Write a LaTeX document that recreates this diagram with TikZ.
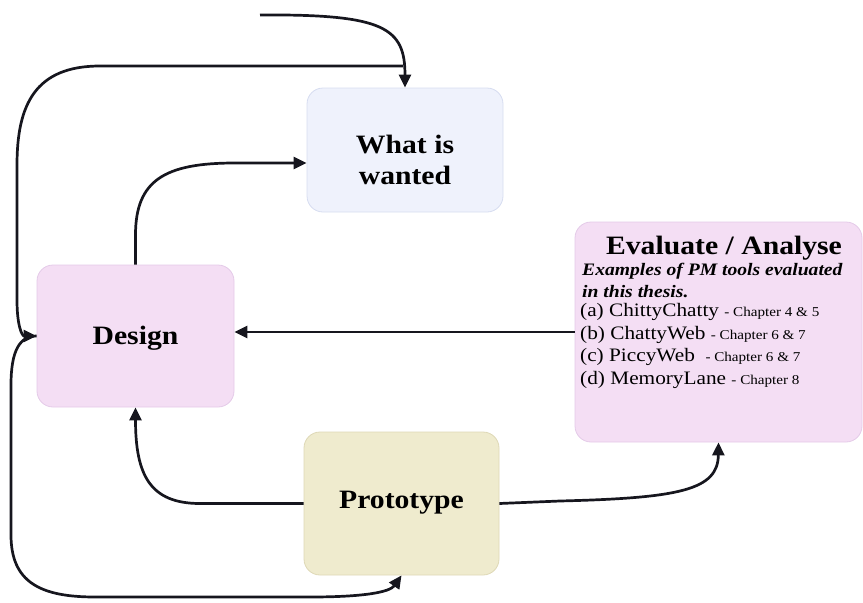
\documentclass[tikz,border=0pt]{standalone}
\usepackage{fontspec}
\setmainfont{Liberation Serif}[FakeStretch=1.12]
\usetikzlibrary{arrows.meta}

\definecolor{pinkfill}{RGB}{244,222,244}
\definecolor{pinkline}{RGB}{228,202,232}
\definecolor{bluefill}{RGB}{239,242,252}
\definecolor{blueline}{RGB}{214,220,240}
\definecolor{creamfill}{RGB}{239,235,206}
\definecolor{creamline}{RGB}{222,216,182}
\definecolor{ink}{RGB}{22,22,30}

\tikzset{
  stagebox/.style={draw, line width=0.8pt, rounded corners=16pt, inner sep=0pt},
  pinkbox/.style={stagebox, fill=pinkfill, draw=pinkline},
  bluebox/.style={stagebox, fill=bluefill, draw=blueline},
  creambox/.style={stagebox, fill=creamfill, draw=creamline},
  boxtitle/.style={font=\fontsize{26.5}{31}\selectfont\bfseries, align=center, inner sep=0pt},
  listline/.style={anchor=base west, inner sep=0pt},
  flow/.style={draw=ink, line width=2.7pt,
    -{Triangle[length=13pt,width=12pt]}},
}
\newcommand{\itemmain}{\fontsize{19}{23}\selectfont}
\newcommand{\itemchap}{\fontsize{13.5}{23}\selectfont}
\newcommand{\itemhead}{\fontsize{17.5}{23}\selectfont\bfseries\itshape}

\begin{document}
\begin{tikzpicture}[x=1pt,y=-1pt]
\useasboundingbox (0,0) rectangle (863,603);

% stage boxes
\node[bluebox, minimum width=196pt, minimum height=124pt] (wanted) at (405,150) {};
\node[boxtitle] (wantedtext) at (405,160) {What is\\wanted};

\node[pinkbox, minimum width=197pt, minimum height=142pt] (design) at (135.5,336) {};
\node[boxtitle] (designtext) at (135.5,338) {Design};

\node[pinkbox, minimum width=287pt, minimum height=220pt] (eval) at (718.5,332) {};
\node[anchor=base, inner sep=0pt, font=\fontsize{26.5}{30}\selectfont\bfseries]
  (evaltitle) at (724,254) {Evaluate / Analyse};
\node[listline] (evalhead1) at (582,275) {\itemhead Examples of PM tools evaluated};
\node[listline] (evalhead2) at (582,297) {\itemhead in this thesis.};
\node[listline] (evala) at (580,316) {\itemmain (a) ChittyChatty \itemchap - Chapter 4 \& 5};
\node[listline] (evalb) at (580,339) {\itemmain (b) ChattyWeb \itemchap - Chapter 6 \& 7};
\node[listline] (evalc) at (580,361) {\itemmain (c) PiccyWeb\ \ \itemchap - Chapter 6 \& 7};
\node[listline] (evald) at (580,384) {\itemmain (d) MemoryLane \itemchap - Chapter 8};

\node[creambox, minimum width=195pt, minimum height=143pt] (proto) at (401.5,503.5) {};
\node[boxtitle] (prototext) at (401.5,503) {Prototype};

% loose ends of the two top connectors
\coordinate (feedin) at (260,15);
\coordinate (loopstart) at (403,66);

% connectors
\draw[flow] (feedin) .. controls (385,14) and (405,28) .. (wanted.north);

\draw[flow] (loopstart) -- (100,66)
  .. controls (35,66) and (17,105) .. (17,165) -- (17,300)
  .. controls (17,326) and (22,336) .. (design.west);

\draw[flow] (design.west) .. controls (20,336) and (11,350) .. (11,385) -- (11,535)
  .. controls (11,582) and (40,597) .. (95,597) -- (310,597)
  .. controls (365,597) and (390,592) .. (proto.south);

\draw[flow] (design.north) -- (135.5,235)
  .. controls (135.5,180) and (165,163) .. (235,163)
  -- ([yshift=-13pt]wanted.west);

\draw[flow] (eval.west) -- (eval.west -| design.east);

\draw[flow] (proto.west) -- (200,503.5)
  .. controls (150,503.5) and (135.5,475) .. (design.south);

\draw[flow] (proto.east) -- (560,501)
  .. controls (680,498) and (718,490) .. (eval.south);
\end{tikzpicture}
\end{document}
